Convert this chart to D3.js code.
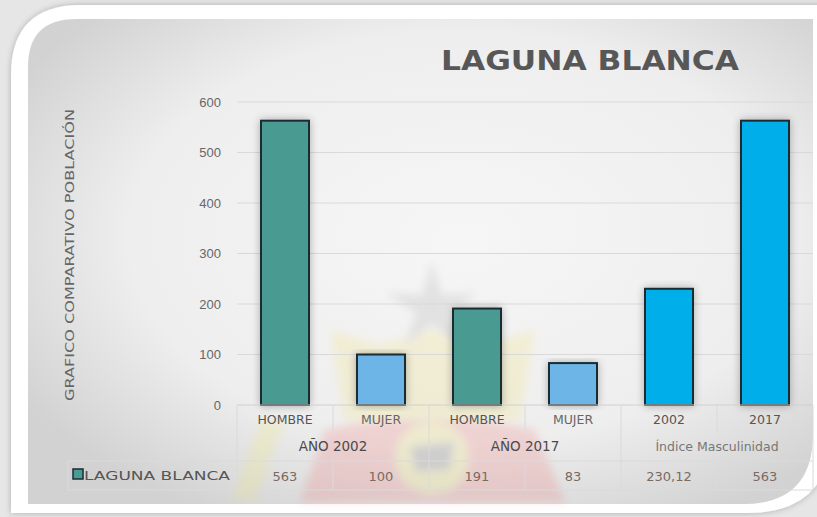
<!DOCTYPE html>
<html>
<head>
<meta charset="utf-8">
<script src="https://cdn.jsdelivr.net/npm/d3@7"></script>
<style>
  body { margin: 0; background: #ececec; }
  svg { display: block; font-family: "DejaVu Sans", "Noto Sans", sans-serif; }
</style>
</head>
<body>
<div id="chart"></div>
<script>
// data
var categories = ["HOMBRE", "MUJER", "HOMBRE", "MUJER", "2002", "2017"];
var groups = ["AÑO 2002", "AÑO 2017", "Índice Masculinidad"];
var values = [563, 100, 191, 83, 230.12, 563];
var valueLabels = ["563", "100", "191", "83", "230,12", "563"];
var yTicks = [0, 100, 200, 300, 400, 500, 600];
var seriesName = "LAGUNA BLANCA";
var barColors = ["#4a9b92", "#6cb5e6", "#4a9b92", "#6cb5e6", "#06aeea", "#06aeea"];

var W = 817, H = 517;
var svg = d3.select("#chart").append("svg")
  .attr("width", W).attr("height", H);

var defs = svg.append("defs");
var bg = defs.append("radialGradient").attr("id", "bg")
  .attr("cx", "55%").attr("cy", "45%").attr("r", "65%");
bg.append("stop").attr("offset", "0%").attr("stop-color", "#f6f6f6");
bg.append("stop").attr("offset", "65%").attr("stop-color", "#eeeeee");
bg.append("stop").attr("offset", "100%").attr("stop-color", "#d2d2d2");

var sh = defs.append("filter").attr("id", "sh")
  .attr("x", "-30%").attr("y", "-10%").attr("width", "160%").attr("height", "120%");
sh.append("feGaussianBlur").attr("in", "SourceAlpha").attr("stdDeviation", 4);
sh.append("feComponentTransfer").append("feFuncA").attr("type", "linear").attr("slope", 0.3);
var mg = sh.append("feMerge");
mg.append("feMergeNode");
mg.append("feMergeNode").attr("in", "SourceGraphic");

var soft = defs.append("filter").attr("id", "soft");
soft.append("feGaussianBlur").attr("stdDeviation", 4);

var edge = defs.append("filter").attr("id", "edge")
  .attr("x", "-5%").attr("y", "-5%").attr("width", "110%").attr("height", "110%");
edge.append("feGaussianBlur").attr("in", "SourceAlpha").attr("stdDeviation", 3);
edge.append("feComponentTransfer").append("feFuncA").attr("type", "linear").attr("slope", 0.25);
var mg2 = edge.append("feMerge");
mg2.append("feMergeNode");
mg2.append("feMergeNode").attr("in", "SourceGraphic");

// frame: white band with rounded top-left and bottom-right, grey panel inside
function frame(x1, y1, x2, y2, r1, r2) {
  return "M" + x1 + "," + (y1 + r1) + " Q" + x1 + "," + y1 + " " + (x1 + r1) + "," + y1 +
    " L" + x2 + "," + y1 + " L" + x2 + "," + (y2 - r2) +
    " Q" + x2 + "," + y2 + " " + (x2 - r2) + "," + y2 +
    " L" + x1 + "," + y2 + " Z";
}
svg.append("rect").attr("width", W).attr("height", H).attr("fill", "#e6e6e6");
svg.append("path").attr("d", frame(11, 5, 832, 513, 70, 85)).attr("fill", "#ffffff")
  .attr("filter", "url(#edge)");
svg.append("path").attr("d", frame(28, 19, 813, 504, 48, 70)).attr("fill", "url(#bg)");

// faint watermark (emblem)
var wm = svg.append("g").attr("filter", "url(#soft)").attr("opacity", 0.24);
wm.append("path")
  .attr("d", "M300,502 L325,430 Q430,405 535,430 L565,502 Z")
  .attr("fill", "#f07c7c");
wm.append("path").attr("d", "M330,330 L380,345 L432,330 L484,345 L535,330 L520,420 L345,420 Z")
  .attr("fill", "#f2e27a");
wm.append("circle").attr("cx", 432).attr("cy", 458).attr("r", 36).attr("fill", "#eee070");
wm.append("path").attr("d", "M410,446 L455,441 L450,470 L415,472 Z").attr("fill", "#777");
wm.append("path").attr("d", "M232,500 L262,420 L285,420 L255,500 Z").attr("fill", "#f0e878");
var star = d3.range(10).map(function (i) {
  var r = i % 2 ? 16 : 48, a = -Math.PI / 2 + i * Math.PI / 5;
  return [432 + r * Math.cos(a), 308 + r * Math.sin(a)];
});
wm.append("path").attr("d", d3.line()(star) + "Z").attr("fill", "#aaa");

// scales
var x = d3.scaleBand().domain(d3.range(categories.length)).range([237, 813])
  .paddingInner(0.5).paddingOuter(0.25);
var y = d3.scaleLinear().domain([0, 600]).range([405, 102]);
var step = x.step();
var x0 = 237;

// title
svg.append("text").attr("x", 590).attr("y", 70).attr("text-anchor", "middle")
  .attr("font-size", 26).attr("font-weight", "bold").attr("fill", "#575757")
  .attr("textLength", 298).attr("lengthAdjust", "spacingAndGlyphs")
  .text(seriesName);

// gridlines + y axis
var yAxis = svg.append("g").attr("transform", "translate(" + x0 + ",0)")
  .call(d3.axisLeft(y).tickValues(yTicks).tickSize(0).tickPadding(16));
yAxis.select(".domain").remove();
yAxis.selectAll("text").attr("fill", "#666").attr("font-size", 13);
svg.append("g").selectAll("line").data(yTicks.slice(1)).enter().append("line")
  .attr("x1", x0).attr("x2", 813)
  .attr("y1", function (d) { return y(d); }).attr("y2", function (d) { return y(d); })
  .attr("stroke", "#d9d9d9").attr("stroke-width", 1.2);

// y axis title
svg.append("text").attr("transform", "translate(74,255) rotate(-90)")
  .attr("text-anchor", "middle").attr("font-size", 13).attr("fill", "#666")
  .attr("textLength", 292).attr("lengthAdjust", "spacingAndGlyphs")
  .text("GRAFICO COMPARATIVO POBLACIÓN");

// bars
svg.append("g").selectAll("rect").data(values).enter().append("rect")
  .attr("x", function (d, i) { return x(i); })
  .attr("width", x.bandwidth())
  .attr("y", function (d) { return y(d); })
  .attr("height", function (d) { return y(0) - y(d); })
  .attr("fill", function (d, i) { return barColors[i]; })
  .attr("stroke", "#1b2b33").attr("stroke-width", 2)
  .attr("filter", "url(#sh)");

// category axis table lines
var tl = svg.append("g").attr("stroke", "#dadada").attr("stroke-width", 1);
tl.append("line").attr("x1", x0).attr("x2", 813).attr("y1", 405).attr("y2", 405).attr("stroke", "#d0d0d0");
d3.range(categories.length + 1).forEach(function (i) {
  var xx = x0 + step * i;
  var isGroup = i % 2 === 0;
  tl.append("line").attr("x1", xx).attr("x2", xx)
    .attr("y1", 405).attr("y2", isGroup ? 461 : 432);
  tl.append("line").attr("x1", xx).attr("x2", xx).attr("y1", 461).attr("y2", 490);
});
tl.append("line").attr("x1", 68).attr("x2", 813).attr("y1", 461).attr("y2", 461);
tl.append("line").attr("x1", 68).attr("x2", 813).attr("y1", 490).attr("y2", 490);
tl.append("line").attr("x1", 68).attr("x2", 68).attr("y1", 461).attr("y2", 490);

// category labels
svg.append("g").selectAll("text").data(categories).enter().append("text")
  .attr("x", function (d, i) { return x(i) + x.bandwidth() / 2; })
  .attr("y", 424).attr("text-anchor", "middle").attr("font-size", 12.5)
  .attr("fill", function (d, i) { return categories[i] === "MUJER" ? "#666" : "#555"; })
  .text(function (d) { return d; });

// group labels
svg.append("g").selectAll("text").data(groups).enter().append("text")
  .attr("x", function (d, i) { return x0 + step * (2 * i + 1); })
  .attr("y", 451).attr("text-anchor", "middle")
  .attr("font-size", function (d, i) { return i < 2 ? 13.5 : 12.5; })
  .attr("fill", function (d, i) { return i < 2 ? "#4a4a4a" : "#777"; })
  .text(function (d) { return d; });

// data table row
svg.append("rect").attr("x", 73).attr("y", 469).attr("width", 10).attr("height", 10)
  .attr("fill", "#4a9b92").attr("stroke", "#1b2b33").attr("stroke-width", 1.5);
svg.append("text").attr("x", 84).attr("y", 480).attr("font-size", 13)
  .attr("fill", "#555").attr("textLength", 146).attr("lengthAdjust", "spacingAndGlyphs")
  .text(seriesName);
svg.append("g").selectAll("text").data(valueLabels).enter().append("text")
  .attr("x", function (d, i) { return x(i) + x.bandwidth() / 2; })
  .attr("y", 481).attr("text-anchor", "middle").attr("font-size", 13)
  .attr("fill", "#7a6a62")
  .text(function (d) { return d; });
</script>
</body>
</html>
